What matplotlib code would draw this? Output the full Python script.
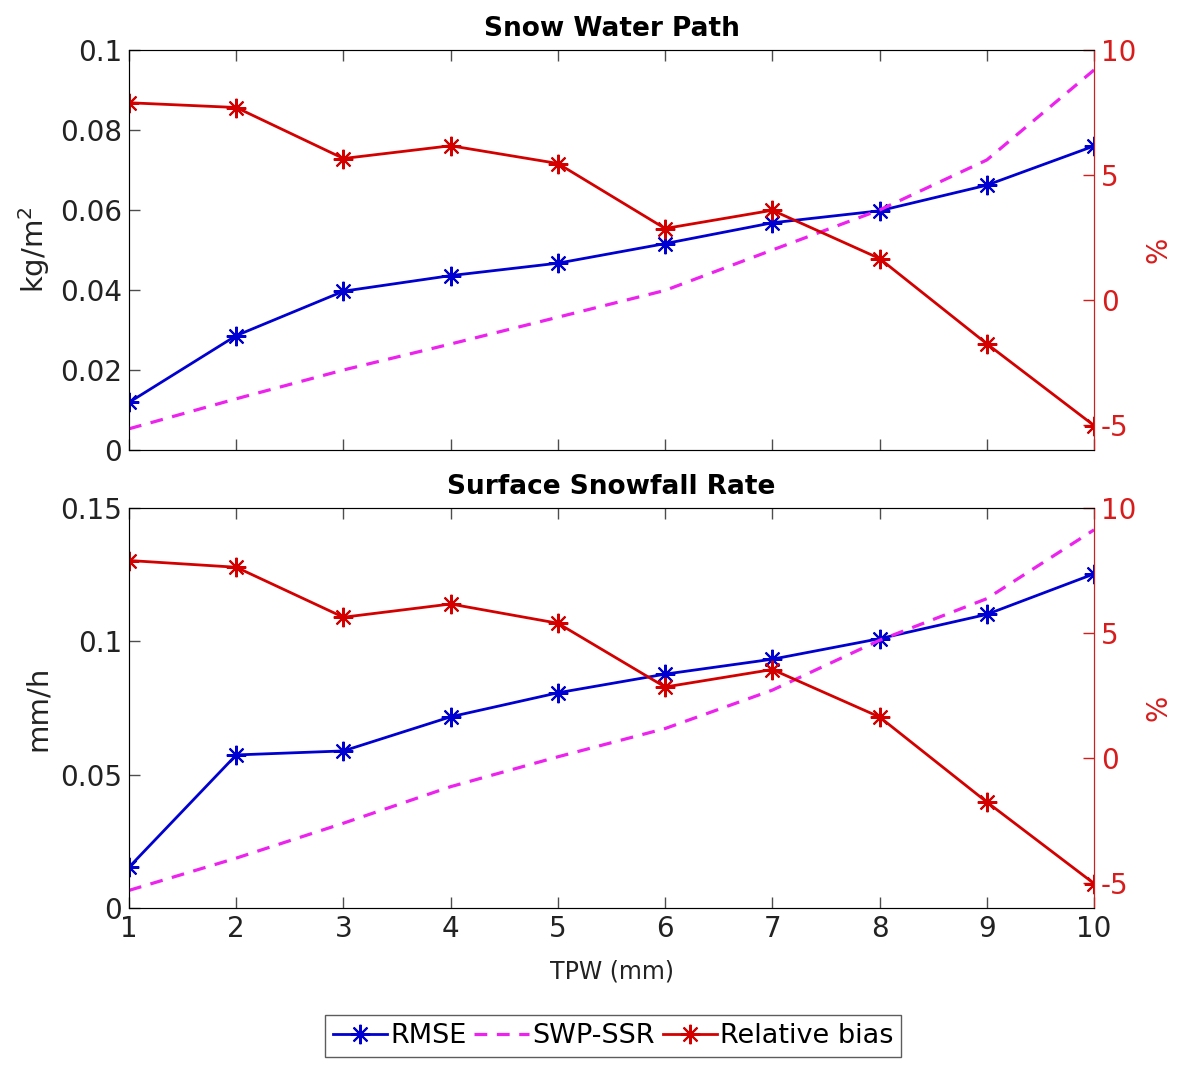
import numpy as np
import matplotlib
matplotlib.use("Agg")
import matplotlib.pyplot as plt
from matplotlib.lines import Line2D

# TPW bins (mm)
tpw = [1, 2, 3, 4, 5, 6, 7, 8, 9, 10]

# Snow Water Path panel
swp_rmse = [0.0119, 0.0286, 0.0397, 0.0436, 0.0467, 0.0516, 0.0568, 0.0598, 0.0662, 0.0760]
swp_ssr = [0.0053, 0.0128, 0.0200, 0.0265, 0.0332, 0.0399, 0.0500, 0.0600, 0.0725, 0.0950]
swp_bias = [7.89, 7.70, 5.66, 6.17, 5.46, 2.86, 3.59, 1.66, -1.75, -5.02]

# Surface Snowfall Rate panel
ssr_rmse = [0.0153, 0.0574, 0.0589, 0.0717, 0.0807, 0.0877, 0.0933, 0.1010, 0.1101, 0.1253]
ssr_ssr = [0.0066, 0.0187, 0.0318, 0.0455, 0.0567, 0.0673, 0.0817, 0.1004, 0.1160, 0.1418]
ssr_bias = [7.90, 7.63, 5.63, 6.16, 5.39, 2.84, 3.54, 1.64, -1.76, -5.02]

swp_ticks = [0, 0.02, 0.04, 0.06, 0.08, 0.1]
swp_ticklabels = ['0', '0.02', '0.04', '0.06', '0.08', '0.1']
ssr_ticks = [0, 0.05, 0.1, 0.15]
ssr_ticklabels = ['0', '0.05', '0.1', '0.15']
bias_ticks = [-5, 0, 5, 10]

blue = '#0000d0'
red = '#d40000'
axred = '#d81c1c'
mag = '#ee22ee'
frame = '#4d4d4d'
ast = (8, 2, 0)

plt.rcParams['font.family'] = ['DejaVu Sans']
plt.rcParams['axes.unicode_minus'] = False

fig = plt.figure(figsize=(11.81, 10.65), dpi=100)
W, H = 1181, 1065
L, R = 129, 1094
panels = [
    (50, 450, 'Snow Water Path', swp_rmse, swp_ssr, swp_bias, (0, 0.1), swp_ticks, swp_ticklabels, 'kg/m$^2$'),
    (508, 908, 'Surface Snowfall Rate', ssr_rmse, ssr_ssr, ssr_bias, (0, 0.15), ssr_ticks, ssr_ticklabels, 'mm/h'),
]
dash = (0, (4, 3))

for i, (top, bot, title, rmse, ssrline, bias, ylim, yt, ytl, ylab) in enumerate(panels):
    ax = fig.add_axes([L / W, 1 - bot / H, (R - L) / W, (bot - top) / H])
    ax.plot(tpw, rmse, color=blue, lw=2, marker=ast, ms=14, mew=1.5)
    ax.plot(tpw, ssrline, color=mag, lw=2.3, ls=dash)
    ax.set_xlim(1, 10)
    ax.set_ylim(*ylim)
    ax.set_yticks(yt)
    ax.set_yticklabels(ytl)
    ax.set_xticks(tpw)
    ax.tick_params(direction='in', length=8, width=1, colors=frame, labelsize=20,
                   top=True, labelcolor='#222222', pad=5)
    ax.tick_params(axis='y', right=False)
    for s in ax.spines.values():
        s.set_color(frame)
    ax.set_ylabel(ylab, fontsize=21, color='#222222', labelpad=6)
    ax.set_title(title, fontsize=19, fontweight='bold', pad=10)
    if i == 0:
        ax.set_xticklabels([])
    else:
        ax.set_xlabel('TPW (mm)', fontsize=17, color='#222222', labelpad=12)

    ax2 = ax.twinx()
    ax2.plot(tpw, bias, color=red, lw=2, marker=ast, ms=14, mew=1.5)
    ax2.set_ylim(-6, 10)
    ax2.set_yticks(bias_ticks)
    ax2.tick_params(direction='in', length=8, width=1, colors=axred, labelsize=20, pad=5)
    ax2.spines['right'].set_color(axred)
    ax2.set_ylabel('%', fontsize=20, color=axred, labelpad=6)

handles = [
    Line2D([], [], color=blue, lw=2, marker=ast, ms=14, mew=1.5),
    Line2D([], [], color=mag, lw=2.3, ls=dash),
    Line2D([], [], color=red, lw=2, marker=ast, ms=14, mew=1.5),
]
leg = fig.legend(handles, ['RMSE', 'SWP-SSR', 'Relative bias'], loc='center',
                 bbox_to_anchor=((323 + 903) / 2 / W, 1 - 1036 / H), ncol=3,
                 fontsize=19.5, frameon=True, fancybox=False, handlelength=2.0,
                 handletextpad=0.12, columnspacing=0.3, borderpad=0.28,
                 borderaxespad=0)
leg.get_frame().set_edgecolor('#333333')
leg.get_frame().set_linewidth(1)

fig.savefig('out.png', dpi=100, facecolor='white')
